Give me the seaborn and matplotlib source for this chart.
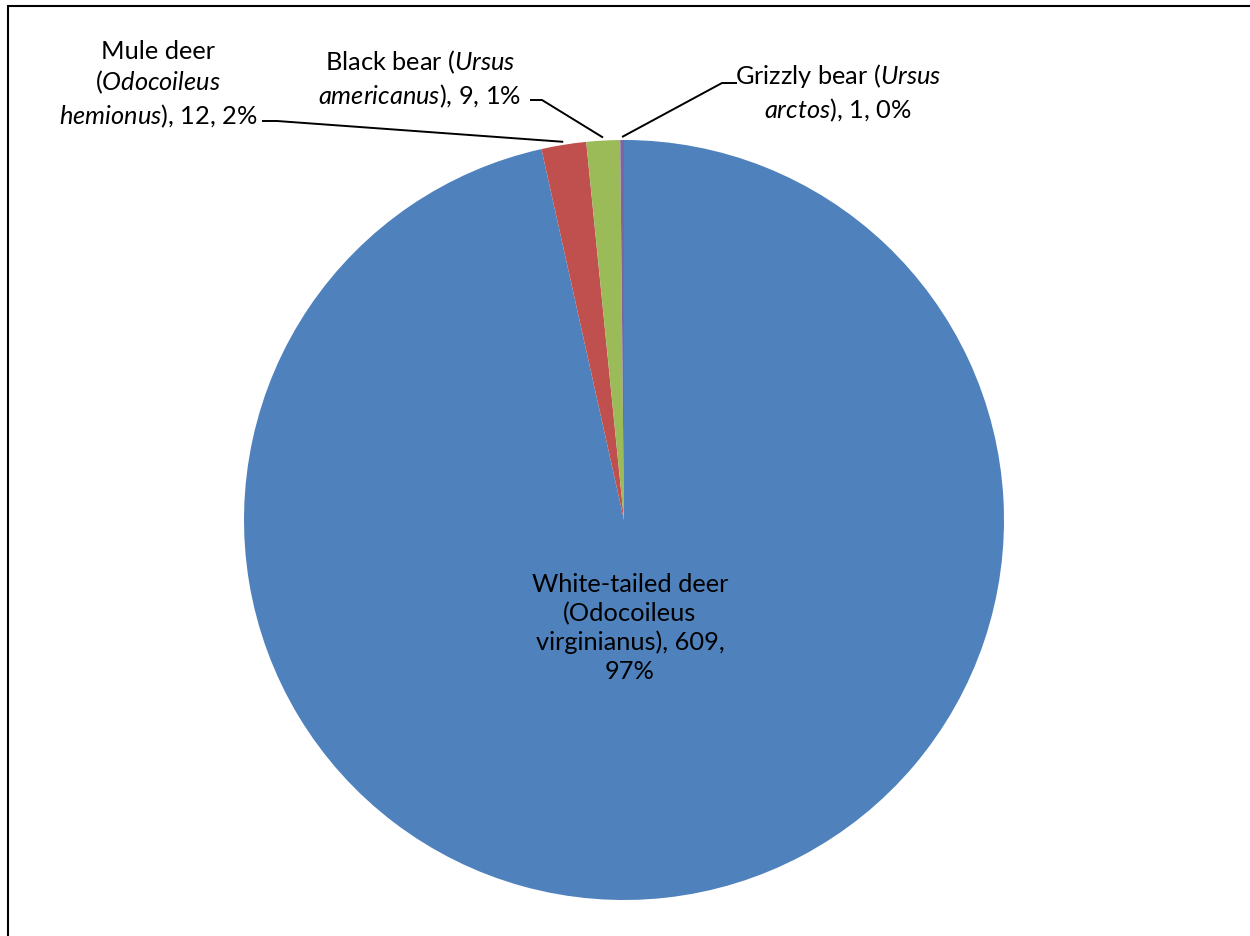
import matplotlib.pyplot as plt
import numpy as np
import seaborn as sns
from matplotlib.lines import Line2D

# Species and counts
species = ['White-tailed deer', 'Mule deer', 'Black bear', 'Grizzly bear']
counts = [609, 12, 9, 1]
colors = ['#4F81BD', '#C0504D', '#9BBB59', '#8064A2']
labels = [
    'White-tailed deer\n(Odocoileus\nvirginianus), 609,\n97%',
    'Mule deer\n($\\it{Odocoileus}$\n$\\it{hemionus}$), 12, 2%',
    'Black bear ($\\it{Ursus}$\n$\\it{americanus}$), 9, 1%',
    'Grizzly bear ($\\it{Ursus}$\n$\\it{arctos}$), 1, 0%',
]

sns.set_theme(style='white')
plt.rcParams['font.family'] = ['Lato', 'DejaVu Sans']
plt.rcParams['mathtext.fontset'] = 'custom'
plt.rcParams['mathtext.rm'] = 'Lato'
plt.rcParams['mathtext.it'] = 'Lato:italic'
plt.rcParams['text.color'] = 'black'

W, H = 1250, 937
fig = plt.figure(figsize=(12.5, 9.37), dpi=100)
cx, cy, r = 624, 521, 380
ax = fig.add_axes([(cx - r) / W, (H - cy - r) / H, 2 * r / W, 2 * r / H])
wedges, _ = ax.pie(counts, colors=colors, startangle=90, counterclock=False,
                   radius=1, wedgeprops=dict(linewidth=0))
ax.set_xlim(-1, 1)
ax.set_ylim(-1, 1)
ax.axis('off')


def px(x, y):
    # pixel (from top-left) -> pie data coords
    return (x - cx) / r, (cy - y) / r


fs = 18.3
ls = 1.3
# inside label
tx, ty = px(630, 628)
ax.text(tx, ty, labels[0], ha='center', va='center', fontsize=fs, linespacing=ls)

# outside labels: text centre, leader start, elbow
outside = [
    (1, (158, 85), (262, 122), (277, 122)),
    (2, (420, 79), (530, 101), (542, 101)),
    (3, (838, 93), (737, 84), (722, 84)),
]
for i, tpos, p0, p1 in outside:
    x, y = px(*tpos)
    ax.text(x, y, labels[i], ha='center', va='center', fontsize=fs, linespacing=ls)
    w = wedges[i]
    mid = np.deg2rad((w.theta1 + w.theta2) / 2)
    ex, ey = 1.008 * np.cos(mid), 1.008 * np.sin(mid)
    a = px(*p0)
    b = px(*p1)
    ax.plot([a[0], b[0], ex], [a[1], b[1], ey], color='black', lw=1.4,
            clip_on=False, solid_capstyle='butt')

# chart frame (top and left edges visible)
fig.add_artist(Line2D([8 / W, 1], [1 - 7 / H, 1 - 7 / H], color='black', lw=1.5))
fig.add_artist(Line2D([8 / W, 8 / W], [0, 1 - 7 / H], color='black', lw=1.5))

fig.savefig('out.png', dpi=100)
